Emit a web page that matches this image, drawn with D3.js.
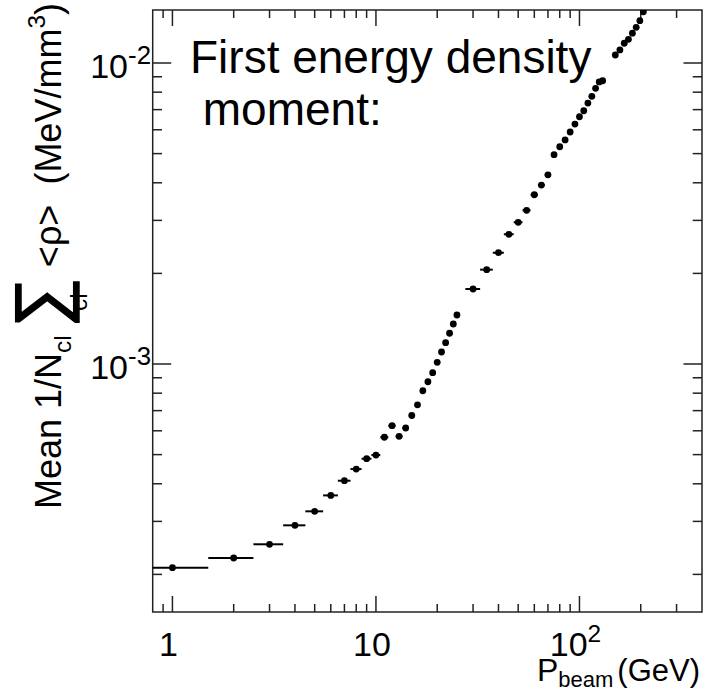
<!DOCTYPE html>
<html><head><meta charset="utf-8">
<script src="https://cdn.jsdelivr.net/npm/d3@7"></script>
<style>
body{margin:0;background:#fff}
svg{display:block}
text{font-family:"Liberation Sans",Arial,Helvetica,sans-serif;fill:#000;white-space:pre}
</style>
</head><body>
<svg id="chart" width="706" height="693"></svg>
<script>
// ---- data ----
const beamEnergy = [1,2,3,4,5,6,7,8,9,10,11,12,13,14,15,16,17,18,19,20,21,22,23,24,25,
  30,35,40,45,50,55,60,65,70,75,80,85,90,95,100,105,110,115,120,125,130,
  150,158,166,174,182,190,198,206];
const binHalfWidth = [0.5,0.5,0.5,0.5,0.5,0.5,0.5,0.5,0.5,0.5,0.5,0.5,0.5,0.5,0.5,0.5,0.5,0.5,0.5,0.5,0.5,0.5,0.5,0.5,0.5,
  2.5,2.5,2.5,2.5,2.5,2.5,2.5,2.5,2.5,2.5,2.5,2.5,2.5,2.5,2.5,2.5,2.5,2.5,2.5,2.5,2.5,
  4,4,4,4,4,4,4,4];
const meanDensity = [2.105e-4,2.267e-4,2.518e-4,2.911e-4,3.24e-4,3.66e-4,4.095e-4,4.477e-4,4.846e-4,4.984e-4,
  5.71e-4,6.24e-4,5.75e-4,6.13e-4,6.745e-4,7.32e-4,8.15e-4,8.73e-4,9.36e-4,1.013e-3,
  1.096e-3,1.177e-3,1.265e-3,1.358e-3,1.455e-3,
  1.775e-3,2.058e-3,2.343e-3,2.697e-3,2.957e-3,3.24e-3,3.65e-3,3.93e-3,4.25e-3,4.96e-3,
  5.27e-3,5.55e-3,5.90e-3,6.27e-3,6.63e-3,6.94e-3,7.36e-3,7.75e-3,8.24e-3,8.65e-3,8.73e-3,
  1.063e-2,1.105e-2,1.163e-2,1.199e-2,1.256e-2,1.314e-2,1.382e-2,1.48e-2];
const xMajorTicks = [1,10,100];
const xMinorTicks = [0.9,2,3,4,5,6,7,8,9,20,30,40,50,60,70,80,90,200,300];
const yMajorTicks = [1e-3,1e-2];
const yMinorTicks = [2e-4,3e-4,4e-4,5e-4,6e-4,7e-4,8e-4,9e-4,2e-3,3e-3,4e-3,5e-3,6e-3,7e-3,8e-3,9e-3];
const xTickLabels = [{v:1,base:"1",exp:""},{v:10,base:"10",exp:""},{v:100,base:"10",exp:"2"}];
const yTickLabels = [{v:1e-3,base:"10",exp:"-3"},{v:1e-2,base:"10",exp:"-2"}];
const titleLines = ["First energy density"," moment:"];

// ---- layout ----
const L=152.7, R=702, T=10, B=612;
const svg = d3.select("#chart");
const x = d3.scaleLog().domain([0.8,400]).range([L,R]);
const y = d3.scaleLog().domain([1.5e-4,1.5e-2]).range([B,T]);

svg.append("defs").append("clipPath").attr("id","clip")
  .append("rect").attr("x",L).attr("y",T).attr("width",R-L).attr("height",B-T);

// frame
svg.append("rect").attr("x",L).attr("y",T).attr("width",R-L).attr("height",B-T)
  .attr("fill","none").attr("stroke","#222").attr("stroke-width",1.5);

// ticks
const tk = svg.append("g").attr("stroke","#222").attr("stroke-width",1.5);
function xt(v,len){
  tk.append("line").attr("x1",x(v)).attr("x2",x(v)).attr("y1",B).attr("y2",B-len);
  tk.append("line").attr("x1",x(v)).attr("x2",x(v)).attr("y1",T).attr("y2",T+len);
}
function yt(v,len){
  tk.append("line").attr("y1",y(v)).attr("y2",y(v)).attr("x1",L).attr("x2",L+len);
  tk.append("line").attr("y1",y(v)).attr("y2",y(v)).attr("x1",R).attr("x2",R-len);
}
xMajorTicks.forEach(v=>xt(v,16)); xMinorTicks.forEach(v=>xt(v,8));
yMajorTicks.forEach(v=>yt(v,18.5)); yMinorTicks.forEach(v=>yt(v,9.3));

// helper for rich text runs
function richText(parent, parts){
  const g = parent.append("g");
  let cx = 0;
  parts.forEach(p=>{
    const t = g.append("text").attr("x",cx+(p.dx||0)).attr("y",p.dy||0)
      .attr("font-size",p.size).text(p.t);
    cx += t.node().getComputedTextLength()+(p.dx||0);
  });
  return {g, width: cx};
}

// x tick labels
const LBL = 34;
xTickLabels.forEach(d=>{
  const parts=[{t:d.base,size:LBL}];
  if(d.exp) parts.push({t:d.exp,size:LBL*0.72,dy:-LBL*0.42});
  const r = richText(svg, parts);
  r.g.attr("transform",`translate(${x(d.v)-r.width/2-4},656)`);
});
// y tick labels
yTickLabels.forEach(d=>{
  const r = richText(svg,[{t:d.base,size:LBL},{t:d.exp,size:LBL*0.76,dy:-LBL*0.42}]);
  r.g.attr("transform",`translate(${151-r.width},${y(d.v)+15})`);
});

// x axis title
{
  const r = richText(svg,[{t:"P",size:32},{t:"beam",size:22,dy:6},{t:"(GeV)",size:31,dx:4}]);
  r.g.attr("transform",`translate(${700-r.width},681)`);
}
// y axis title (rotated, right-aligned at the top)
{
  const F=36;
  const g = svg.append("g");
  const r1 = richText(g, [
    {t:"Mean 1/N",size:F},
    {t:"cl",size:F*0.68,dy:F*0.28},
    {t:" ",size:F*0.8},
  ]);
  const sig = g.append("text").attr("x",r1.width).attr("y",F*0.08).attr("font-size",F*1.95)
    .attr("font-family","DejaVu Sans").attr("stroke","#000").attr("stroke-width",1.6).text("\u2211");
  const sw = sig.node().getComputedTextLength();
  g.append("text").attr("x",r1.width+sw/2).attr("y",F*0.72).attr("font-size",F*0.68)
    .attr("text-anchor","middle").text("cl");
  const r2 = richText(g,[{t:" <\u03C1>  (MeV/mm",size:F},{t:"3",size:F*0.68,dy:-F*0.45},{t:")",size:F}]);
  r2.g.attr("transform",`translate(${r1.width+sw},0)`);
  const total = r1.width+sw+r2.width;
  g.attr("transform",`translate(61,${3+total}) rotate(-90)`);
}

// title
titleLines.forEach((s,i)=>{
  svg.append("text").attr("x",190).attr("y",73+i*52).attr("font-size",46).text(s);
});

// data
const data = beamEnergy.map((e,i)=>({e, hw:binHalfWidth[i], v:meanDensity[i]}));
const dg = svg.append("g").attr("clip-path","url(#clip)");
dg.selectAll("line.err").data(data).join("line").attr("class","err")
  .attr("x1",d=>x(d.e-d.hw)).attr("x2",d=>x(d.e+d.hw))
  .attr("y1",d=>y(d.v)).attr("y2",d=>y(d.v))
  .attr("stroke","#000").attr("stroke-width",2);
dg.selectAll("circle").data(data).join("circle")
  .attr("cx",d=>x(d.e)).attr("cy",d=>y(d.v)).attr("r",3.4).attr("fill","#000");
</script>
</body></html>
